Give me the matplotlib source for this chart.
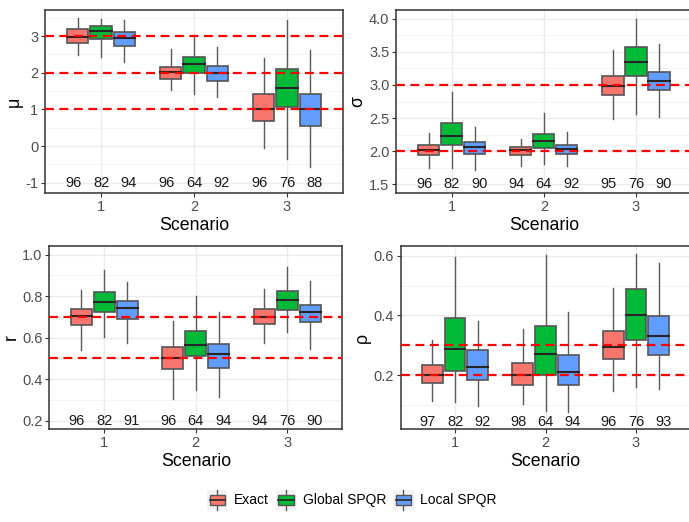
import numpy as np
import matplotlib.pyplot as plt
from matplotlib.patches import Rectangle
from matplotlib.legend_handler import HandlerBase
from matplotlib.lines import Line2D

plt.rcParams['font.family'] = ['Liberation Sans', 'DejaVu Sans']
plt.rcParams['axes.unicode_minus'] = False

methods = ['Exact', 'Global SPQR', 'Local SPQR']
colors = ['#F8766D', '#00BA38', '#619CFF']
scenarios = [1, 2, 3]

# box stats per scenario, per method: (whisker low, Q1, median, Q3, whisker high)
mu_stats = [
    [(2.48, 2.82, 2.98, 3.18, 3.48), (2.44, 2.91, 3.15, 3.27, 3.46), (2.29, 2.73, 2.96, 3.12, 3.44)],
    [(1.54, 1.84, 2.01, 2.15, 2.64), (1.41, 2.00, 2.23, 2.42, 3.03), (1.34, 1.77, 1.98, 2.19, 2.71)],
    [(-0.04, 0.69, 1.01, 1.41, 2.39), (-0.36, 1.07, 1.57, 2.10, 3.44), (-0.57, 0.55, 1.01, 1.42, 2.62)],
]
sigma_stats = [
    [(1.74, 1.94, 2.02, 2.09, 2.28), (1.75, 2.09, 2.23, 2.42, 2.89), (1.71, 1.96, 2.06, 2.14, 2.36)],
    [(1.78, 1.94, 2.02, 2.06, 2.18), (1.80, 2.05, 2.15, 2.26, 2.58), (1.78, 1.96, 2.03, 2.09, 2.29)],
    [(2.48, 2.85, 2.99, 3.13, 3.53), (2.56, 3.13, 3.35, 3.57, 4.00), (2.52, 2.92, 3.06, 3.19, 3.62)],
]
r_stats = [
    [(0.540, 0.660, 0.703, 0.738, 0.830), (0.605, 0.722, 0.772, 0.818, 0.926), (0.573, 0.688, 0.743, 0.777, 0.870)],
    [(0.305, 0.447, 0.504, 0.553, 0.680), (0.348, 0.513, 0.563, 0.632, 0.800), (0.312, 0.455, 0.520, 0.571, 0.724)],
    [(0.574, 0.664, 0.701, 0.737, 0.833), (0.626, 0.732, 0.783, 0.827, 0.939), (0.545, 0.675, 0.722, 0.756, 0.875)],
]
rho_stats = [
    [(0.114, 0.172, 0.201, 0.235, 0.317), (0.108, 0.212, 0.289, 0.393, 0.597), (0.096, 0.185, 0.226, 0.283, 0.381)],
    [(0.102, 0.165, 0.201, 0.240, 0.356), (0.080, 0.199, 0.271, 0.365, 0.603), (0.075, 0.165, 0.210, 0.267, 0.411)],
    [(0.147, 0.254, 0.295, 0.349, 0.493), (0.159, 0.318, 0.403, 0.488, 0.606), (0.153, 0.267, 0.332, 0.398, 0.577)],
]

# coverage counts shown along the bottom of each panel
mu_counts = [[96, 82, 94], [96, 64, 92], [96, 76, 88]]
sigma_counts = [[96, 82, 90], [94, 64, 92], [95, 76, 90]]
r_counts = [[96, 82, 91], [96, 64, 94], [94, 76, 90]]
rho_counts = [[97, 82, 92], [98, 64, 94], [96, 76, 93]]

mu_true = [1, 2, 3]
sigma_true = [2, 3]
r_true = [0.5, 0.7]
rho_true = [0.2, 0.3]

panels = [
    dict(stats=mu_stats, counts=mu_counts, truth=mu_true, label='μ', count_y=-1.0,
         ylim=(-1.28, 3.71), major=[-1, 0, 1, 2, 3], minor=np.arange(-0.5, 3.6, 1.0), fmt='{:g}',
         rect=[45.2, 10, 342.8, 193]),
    dict(stats=sigma_stats, counts=sigma_counts, truth=sigma_true, label='σ', count_y=1.5,
         ylim=(1.364, 4.136), major=np.arange(1.5, 4.01, 0.5), minor=np.arange(1.75, 4.1, 0.5), fmt='{:.1f}',
         rect=[396.4, 10, 691.3, 193]),
    dict(stats=r_stats, counts=r_counts, truth=r_true, label='r', count_y=0.2,
         ylim=(0.16, 1.042), major=np.arange(0.2, 1.01, 0.2), minor=np.arange(0.3, 1.0, 0.2), fmt='{:.1f}',
         rect=[49.4, 246, 342.2, 429]),
    dict(stats=rho_stats, counts=rho_counts, truth=rho_true, label='ρ', count_y=0.044,
         ylim=(0.019, 0.633), major=[0.2, 0.4, 0.6], minor=[0.1, 0.3, 0.5], fmt='{:.1f}',
         rect=[400.7, 246, 690.3, 429]),
]

W, H = 689, 522
fig = plt.figure(figsize=(W / 100, H / 100), dpi=100)

box_off = 0.25
box_w = 0.23
text_off = 0.30
edge = '#555555'

for p in panels:
    x0, y0, x1, y1 = p['rect']
    ax = fig.add_axes([x0 / W, 1 - y1 / H, (x1 - x0) / W, (y1 - y0) / H])
    ax.set_xlim(0.4, 3.6)
    ax.set_ylim(*p['ylim'])
    ax.set_yticks(p['major'])
    ax.set_yticklabels([p['fmt'].format(v) for v in p['major']])
    ax.set_yticks(p['minor'], minor=True)
    ax.set_xticks(scenarios)
    ax.set_xticklabels([str(s) for s in scenarios])
    ax.grid(True, which='major', color='#EBEBEB', lw=1.0, zorder=0)
    ax.grid(True, which='minor', axis='y', color='#F4F4F4', lw=0.8, zorder=0)
    ax.set_axisbelow(True)
    for s in ax.spines.values():
        s.set_color('#333333')
        s.set_linewidth(1.1)
    ax.tick_params(axis='both', which='major', colors='#333333', labelcolor='#4D4D4D',
                   labelsize=10.5, length=3, width=0.8, pad=2)
    ax.tick_params(axis='y', which='minor', length=0)
    ax.set_xlabel('Scenario', fontsize=12.8, color='black', labelpad=2)
    ax.set_ylabel(p['label'], fontsize=12.8, color='black', labelpad=2)

    for i, s in enumerate(scenarios):
        for j in range(3):
            lo, q1, med, q3, hi = p['stats'][i][j]
            xc = s + (j - 1) * box_off
            ax.plot([xc, xc], [lo, q1], color='#5A5A5A', lw=1.0, zorder=2)
            ax.plot([xc, xc], [q3, hi], color='#5A5A5A', lw=1.0, zorder=2)
            ax.add_patch(Rectangle((xc - box_w / 2, q1), box_w, q3 - q1,
                                   facecolor=colors[j], edgecolor=edge, lw=1.2, zorder=3))
            ax.plot([xc - box_w / 2, xc + box_w / 2], [med, med], color='#262626', lw=1.5, zorder=4)
            ax.text(s + (j - 1) * text_off, p['count_y'], str(p['counts'][i][j]),
                    ha='center', va='center', fontsize=10.5, color='#1A1A1A', zorder=5)

    for t in p['truth']:
        ax.axhline(t, color='#FF0000', lw=1.6, ls=(0, (4, 2.5)), zorder=6)


class BoxKeyHandler(HandlerBase):
    def create_artists(self, legend, orig, xdescent, ydescent, width, height, fontsize, trans):
        bg = Rectangle((-xdescent, -ydescent - 2), width, height + 4, facecolor='#F2F2F2',
                       edgecolor='none', transform=trans)
        bw = width * 0.75
        bx = -xdescent + (width - bw) / 2
        box = Rectangle((bx, -ydescent + height * 0.15), bw, height * 0.7,
                        facecolor=orig.get_color(), edgecolor=edge, lw=1.0, transform=trans)
        cx = -xdescent + width / 2
        med = Line2D([bx, bx + bw], [-ydescent + height / 2] * 2, color='#262626', lw=1.2, transform=trans)
        wt = Line2D([cx, cx], [-ydescent + height * 0.85, -ydescent + height + 2], color='#5A5A5A',
                    lw=1.0, transform=trans)
        wb = Line2D([cx, cx], [-ydescent - 2, -ydescent + height * 0.15], color='#5A5A5A',
                    lw=1.0, transform=trans)
        return [bg, wt, wb, box, med]


handles = [Line2D([], [], color=c) for c in colors]
fig.legend(handles, methods, handler_map={Line2D: BoxKeyHandler()}, loc='center',
           bbox_to_anchor=(352 / W, 1 - 500 / H), ncol=3, frameon=False, fontsize=10,
           handlelength=1.45, handleheight=1.2, handletextpad=0.5, columnspacing=0.5)

fig.savefig('out.png', dpi=100, facecolor='white')
